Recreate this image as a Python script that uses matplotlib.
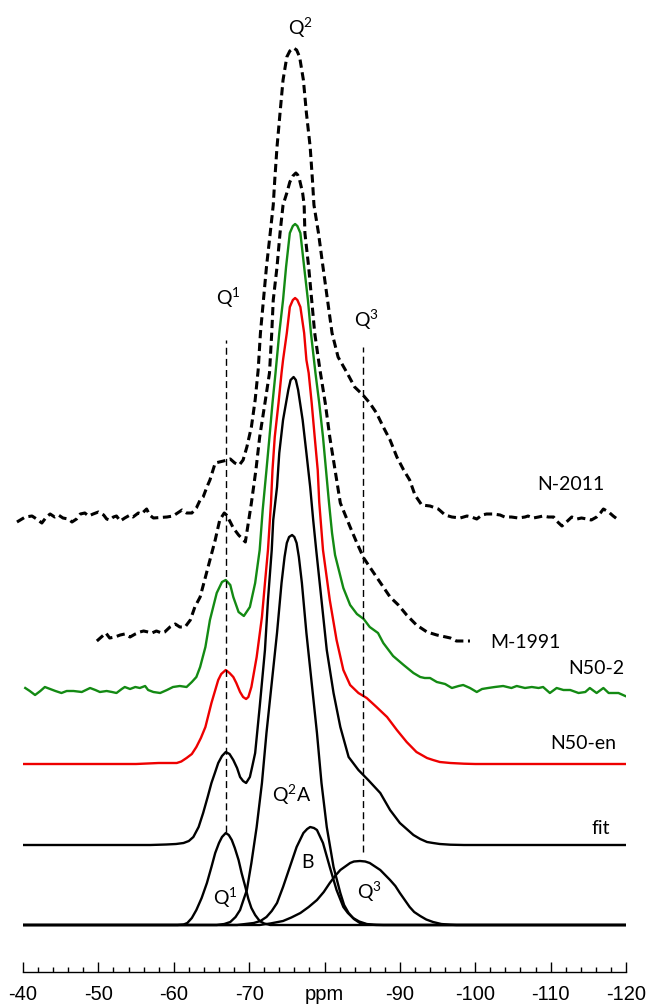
import matplotlib.pyplot as plt

plt.rcParams['mathtext.fontset'] = 'custom'
plt.rcParams['mathtext.rm'] = 'Lato'
plt.rcParams['mathtext.it'] = 'Lato:italic'

# === DATA (ppm, intensity in arbitrary units above each trace's own baseline) ===
n2011_ppm = [-39.2, -40.3, -41.2, -41.8, -42.5, -43.1, -43.6, -44.2, -44.7, -45.3, -46.0, -46.5,
             -47.1, -47.6, -48.2, -48.7, -49.3, -50.0, -50.7, -51.1, -51.5, -52.0, -52.4, -52.9,
             -53.5, -54.2, -54.6, -55.3, -55.7, -56.4, -56.8, -57.3, -59.1, -59.9, -61.1, -61.7,
             -62.4, -63.0, -63.5, -63.9, -64.4, -64.8, -65.5, -66.6, -67.5, -68.1, -68.7, -69.2,
             -69.7, -70.3, -70.8, -71.2, -71.5, -71.9, -72.3, -72.8, -73.2, -73.4, -73.7, -74.1,
             -74.5, -75.0, -75.4, -75.9, -76.3, -76.7, -77.2, -77.6, -78.1, -78.4, -78.6, -79.2, -79.8, -80.4,
             -81.0, -81.8, -83.0, -84.0, -85.1, -86.0, -86.9, -87.8, -88.7, -89.6, -90.5, -91.3,
             -92.0, -92.9, -94.0, -95.1, -96.0, -96.9, -98.0, -98.9, -99.5, -100.2, -100.9, -101.5,
             -102.4, -103.3, -103.9, -104.8, -105.7, -106.6, -107.0, -107.7, -108.4, -109.0, -109.7,
             -110.4, -110.8, -111.5, -112.1, -112.8, -113.5, -114.1, -114.8, -115.4, -116.1, -116.6,
             -117.0, -117.7, -118.3, -119.0]
n2011_int = [-5, 0, 1, -2, -6, 0, 3, 0, 2, -1, -2, -5,
             -2, 3, 4, 1, 3, 5, 2, -2, -3, 0, 1, -4,
             -1, 2, 0, 4, 3, 8, 2, -1, 0, 1, 7, 4,
             4, 9, 17, 20, 30, 37, 54, 56, 58, 54, 52, 57,
             70, 90, 117, 147, 184, 217, 250, 284, 312, 337, 370, 404,
             437, 460, 466, 469, 467, 460, 437, 404, 370, 337, 312, 284, 250, 217,
             184, 160, 144, 130, 122, 114, 104, 90, 77, 60, 47, 37,
             22, 12, 11, 8, 2, 0, -1, 1, 0, -2, 2, 3,
             3, 2, 0, 0, -1, 0, 1, -1, 0, 1, 0,
             0, -4, -9, -5, 0, -2, -1, -2, -3, 0, 4,
             8, 5, 1, -3]

m1991_ppm = [-49.8, -50.4, -51.0, -51.5, -52.2, -52.9, -53.5, -54.2, -54.9, -55.5, -56.0, -56.6,
             -57.1, -57.7, -58.4, -58.8, -59.5, -60.2, -60.8, -61.5, -62.2, -62.8, -63.5, -64.1,
             -64.8, -65.5, -66.1, -66.7, -67.0, -67.5, -67.9, -68.6, -69.5, -70.3, -70.9, -71.4,
             -72.1, -72.7, -73.0, -73.2, -73.7, -74.1, -74.5, -75.0, -75.4, -75.8, -76.2, -76.45, -76.7, -77.1,
             -77.3, -77.4, -77.9, -78.3, -78.7, -79.4, -80.1, -80.7, -81.4, -82.1, -83.4, -84.3,
             -85.2, -86.0, -86.9, -87.8, -88.7, -89.8, -90.9, -92.2, -93.6, -94.9, -96.7, -97.5, -99.3]
m1991_int = [0, 4, 8, 3, 4, 6, 7, 4, 7, 9, 10, 9,
             8, 10, 8, 9, 14, 17, 14, 14, 21, 34, 44, 61,
             81, 101, 121, 128, 126, 119, 113, 106, 99, 138, 171, 204,
             238, 268, 308, 341, 374, 408, 436, 448, 459, 465, 468, 466, 461, 448,
             436, 408, 374, 341, 308, 271, 238, 204, 171, 138, 114, 98,
             83, 74, 64, 54, 44, 36, 26, 16, 9, 6, 3, 0, 0]

n502_ppm = [-40.3, -40.9, -41.6, -42.3, -42.9, -43.6, -44.3, -45.1, -45.8, -46.7, -47.8, -48.9,
            -49.6, -50.2, -51.1, -51.8, -52.4, -53.1, -53.5, -54.2, -54.9, -55.5, -56.2, -56.6,
            -57.3, -58.2, -59.1, -59.9, -60.8, -61.7, -62.4, -63.0, -63.5, -64.2, -64.8, -65.7,
            -66.4, -66.9, -67.5, -67.9, -68.6, -69.3, -70.1, -70.8, -71.4, -71.8, -72.3, -72.7,
            -73.1, -73.5, -74.0, -74.5, -74.9, -75.4, -75.8, -76.1, -76.4, -76.8, -77.3, -77.8,
            -78.2, -78.8, -79.3, -79.8, -80.2, -80.6, -81.0, -81.4, -81.9, -82.5, -83.4, -84.3,
            -85.2, -86.0, -87.1, -87.8, -89.1, -90.5, -91.8, -92.7, -93.3, -94.0, -94.9, -96.0,
            -96.9, -97.8, -98.4, -99.3, -100.2, -100.9, -101.7, -102.6, -103.7, -104.8, -105.5,
            -106.6, -107.5, -108.4, -109.0, -109.9, -110.8, -111.7, -112.6, -113.7, -114.6, -115.2,
            -116.1, -117.0, -117.7, -118.3, -119.0, -119.9]
n502_int = [1, -2, -6, -2, 2, 0, -2, -4, -2, -2, -3, 1,
            -1, -3, -2, -3, -4, 0, 2, 0, 2, 1, 3, -1,
            -3, -4, -1, 2, 3, 2, 7, 12, 22, 42, 69, 96,
            107, 109, 104, 92, 77, 73, 82, 106, 139, 179, 219, 252,
            286, 316, 356, 389, 422, 456, 463, 465, 463, 456, 422, 389,
            356, 316, 286, 252, 219, 186, 156, 134, 119, 101, 84, 75,
            70, 62, 56, 46, 33, 24, 16, 12, 11, 11, 7, 5,
            1, 3, 4, 1, -3, 0, 1, 2, 3, 1, 3,
            1, 2, 1, 2, -4, 1, -1, -1, -4, -3, 1,
            -4, 1, -4, -4, -4, -7]

n50en_ppm = [-40.0, -45.0, -50.0, -55.0, -58.0, -60.4, -61.0, -61.7, -62.4, -63.0, -63.6, -64.2,
             -65.0, -65.9, -66.3, -66.6, -66.9, -67.4, -67.9, -68.3, -68.8, -69.2, -69.6, -69.9,
             -70.3, -71.0, -71.7, -72.1, -72.5, -72.9, -73.1, -73.4, -73.9, -74.3, -74.5, -75.0,
             -75.4, -75.8, -76.1, -76.4, -76.8, -77.3, -77.6, -77.9, -78.3, -78.7, -79.1, -79.3,
             -79.8, -80.7, -81.6, -82.5, -83.4, -84.5, -85.6, -86.9, -88.3, -89.6, -90.9, -92.2,
             -93.6, -94.4, -95.3, -96.7, -98.5, -100.0, -110.0, -120.0]
n50en_int = [0, 0, 0, 0, 1, 1, 2.5, 6, 10, 17, 26, 37,
             61, 84, 90, 92, 94, 91, 87, 81, 72, 67, 65, 67,
             77, 107, 147, 181, 214, 261, 294, 327, 361, 391, 404, 431,
             457, 464, 466, 464, 457, 431, 404, 391, 361, 327, 294, 262,
             214, 164, 124, 94, 79, 71, 66, 57, 47, 34, 22, 12,
             6, 4, 2, 1, 0.3, 0, 0, 0]

fit_ppm = [-40.0, -56.9, -59.0, -60.3, -61.3, -62.0, -62.6, -63.3, -63.9, -64.5, -65.0, -65.5,
           -65.9, -66.4, -66.9, -67.4, -67.9, -68.4, -68.8, -69.2, -69.6, -70.1, -70.4, -70.8,
           -71.4, -72.1, -72.5, -73.0, -73.2, -73.7, -74.0, -74.5, -75.2, -75.5, -75.9, -76.2,
           -76.5, -77.1, -77.6, -78.1, -78.5, -78.9, -79.6, -80.3, -81.2, -82.1, -83.2, -84.5,
           -85.8, -87.4, -88.7, -90.0, -91.8, -92.7, -93.6, -94.4, -95.3, -96.7, -98.5, -120.0]
fit_int = [0, 0, 0.5, 1, 2, 4, 8, 18, 32, 48, 62, 73,
           82, 89, 93, 91, 85, 77, 68, 64, 62, 68, 78, 92,
           138, 195, 245, 295, 325, 358, 392, 425, 455, 465, 468, 465,
           455, 425, 392, 358, 325, 295, 245, 195, 152, 118, 88, 75,
           65, 52, 35, 22, 10, 6, 3, 2, 1, 0.3, 0, 0]

# fitted components: Q1, Q2A, B, Q3
q1_ppm = [-40.0, -60.5, -61.3, -61.8, -62.4, -63.0, -63.7, -64.4, -65.0, -65.5, -66.0, -66.4,
          -66.9, -67.3, -67.7, -68.1, -68.6, -69.0, -69.5, -69.9, -70.3, -70.8, -71.4, -72.0,
          -72.8, -120.0]
q1_int = [0, 0, 0.5, 2, 7, 15, 27, 42, 58, 72, 82, 88,
          92, 90, 85, 77, 65, 52, 38, 26, 17, 10, 4, 1.5,
          0, 0]

q2a_ppm = [-40.0, -65.7, -66.7, -67.5, -68.2, -68.8, -69.2, -69.7, -70.3, -71.0, -71.7, -72.3,
           -73.0, -73.7, -74.3, -74.7, -75.0, -75.3, -75.7, -76.0, -76.3, -76.6, -77.0, -77.6,
           -78.3, -79.0, -79.6, -80.3, -81.2, -82.1, -82.6, -83.2, -83.9, -84.7, -85.7, -86.9,
           -120.0]
q2a_int = [0, 0, 1, 3, 8, 15, 24, 35, 62, 98, 142, 192,
           242, 292, 342, 368, 382, 388, 390, 388, 382, 368, 342, 292,
           242, 192, 142, 98, 58, 32, 20, 12, 6, 2, 0.5, 0,
           0]

b_ppm = [-40.0, -68.4, -70.6, -71.5, -72.3, -73.0, -73.7, -74.5, -75.4, -76.3, -77.2, -77.7,
         -78.1, -78.6, -79.0, -79.8, -80.7, -81.6, -82.5, -83.1, -83.8, -84.6, -85.6, -86.5,
         -87.8, -120.0]
b_int = [0, 0, 2, 4, 8, 14, 22, 38, 58, 78, 92, 96,
         98, 97, 95, 82, 58, 35, 18, 12, 7, 3.5, 1, 0.3,
         0, 0]

q3_ppm = [-40.0, -71.4, -72.8, -74.5, -75.6, -76.8, -77.9, -79.0, -79.9, -80.7, -81.4, -82.1,
          -83.4, -83.9, -84.7, -85.4, -86.0, -87.4, -88.7, -89.4, -90.0, -91.3, -91.9, -92.7,
          -93.5, -94.4, -95.5, -96.7, -97.5, -120.0]
q3_int = [0, 0, 1.5, 4, 7.5, 12, 18, 25, 33, 42, 49, 55,
          62, 63.5, 64, 63.5, 62, 55, 45, 39, 32, 18, 13, 9,
          5.5, 3, 1, 0.3, 0, 0]

# vertical stacking offsets
offsets = {'N-2011': 408, 'M-1991': 284, 'N50-2': 236, 'N50-en': 161, 'fit': 80, 'comp': 0}

# reference positions of Q1 and Q3 (ppm)
q1_pos = -66.9
q3_pos = -85.1

major_ticks = [-40, -50, -60, -70, -80, -90, -100, -110, -120]
tick_labels = ['-40', '-50', '-60', '-70', 'ppm', '-90', '-100', '-110', '-120']

# === FIGURE ===
fig = plt.figure(figsize=(6.46, 10.05), dpi=100)
ax = fig.add_axes([23 / 646, 33 / 1005, 603 / 646, 972 / 1005])
ax.set_xlim(-40, -120)
ax.set_ylim(-47, 925)

dash = (0, (2.7, 1.5))

def shift(vals, off):
    return [v + off for v in vals]

ax.plot(n2011_ppm, shift(n2011_int, offsets['N-2011']), color='black', lw=2.2, ls=dash, clip_on=False)
ax.plot(m1991_ppm, shift(m1991_int, offsets['M-1991']), color='black', lw=2.2, ls=dash)
ax.plot(n502_ppm, shift(n502_int, offsets['N50-2']), color='#138a13', lw=1.7)
ax.plot(n50en_ppm, shift(n50en_int, offsets['N50-en']), color='#ee0000', lw=1.7)
ax.plot(fit_ppm, shift(fit_int, offsets['fit']), color='black', lw=1.7)
for p, i in [(q1_ppm, q1_int), (q2a_ppm, q2a_int), (b_ppm, b_int), (q3_ppm, q3_int)]:
    ax.plot(p, i, color='black', lw=1.7)

# dashed guide lines
ax.plot([q1_pos, q1_pos], [93, 585], color='black', lw=1.0, ls=(0, (5, 3)))
ax.plot([q3_pos, q3_pos], [73, 578], color='black', lw=1.0, ls=(0, (5, 3)))

# === LABELS ===
lab = dict(fontsize=14, family='Lato', ha='center', va='center')
ax.text(-76.75, 897, 'Q$^{2}$', **lab)
ax.text(-67.2, 627, 'Q$^{1}$', **lab)
ax.text(-85.6, 605, 'Q$^{3}$', **lab)
ax.text(-112.7, 441, 'N-2011', **lab)
ax.text(-106.6, 283, 'M-1991', **lab)
ax.text(-116.1, 257, 'N50-2', **lab)
ax.text(-114.3, 182, 'N50-en', **lab)
ax.text(-116.6, 97, 'fit', **lab)
ax.text(-75.65, 130, 'Q$^{2}$A', **lab)
ax.text(-77.8, 63, 'B', **lab)
ax.text(-66.9, 27, 'Q$^{1}$', **lab)
ax.text(-86.0, 33, 'Q$^{3}$', **lab)

# === AXIS ===
for s in ['top', 'left', 'right']:
    ax.spines[s].set_visible(False)
ax.spines['bottom'].set_linewidth(1.0)
ax.set_yticks([])
ax.set_xticks(major_ticks)
ax.set_xticklabels(tick_labels, family='Liberation Sans', fontsize=14.5)
ax.set_xticks(list(range(-42, -120, -2)), minor=True)
ax.tick_params(axis='x', which='major', direction='in', length=7, width=1.0, pad=9)
ax.tick_params(axis='x', which='minor', direction='in', length=3.5, width=1.0)

fig.savefig('out.png', dpi=100)
